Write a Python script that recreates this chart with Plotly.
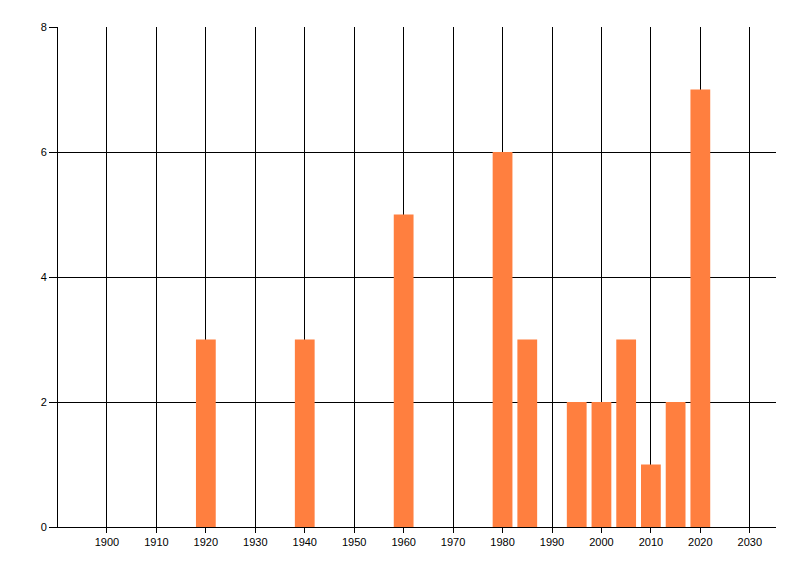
import plotly.graph_objects as go

years = [1920, 1940, 1960, 1980, 1985, 1995, 2000, 2005, 2010, 2015, 2020]
counts = [3, 3, 5, 6, 3, 2, 2, 3, 1, 2, 7]
x_ticks = list(range(1900, 2031, 10))
y_ticks = [0, 2, 4, 6, 8]

fig = go.Figure(go.Bar(x=years, y=counts, width=4, marker=dict(color="#FF7F3F", line=dict(width=0))))

fig.update_layout(
    width=800, height=576,
    margin=dict(l=50, r=32, t=19, b=57),
    plot_bgcolor="white", paper_bgcolor="white",
    showlegend=False,
    font=dict(family="Liberation Sans, Arial, sans-serif", size=11, color="black"),
)
fig.update_xaxes(
    range=[1890.1, 2035.3], tickvals=x_ticks, ticktext=[str(t) for t in x_ticks],
    showgrid=True, gridcolor="black", gridwidth=1,
    ticks="outside", ticklen=5, tickcolor="black",
    showline=True, linecolor="black", linewidth=1,
    zeroline=False,
)
fig.update_yaxes(
    range=[0, 8], tickvals=y_ticks,
    showgrid=True, gridcolor="black", gridwidth=1,
    ticks="outside", ticklen=8, tickcolor="black",
    showline=True, linecolor="black", linewidth=1,
    zeroline=False,
)
fig.write_html("out.html")
